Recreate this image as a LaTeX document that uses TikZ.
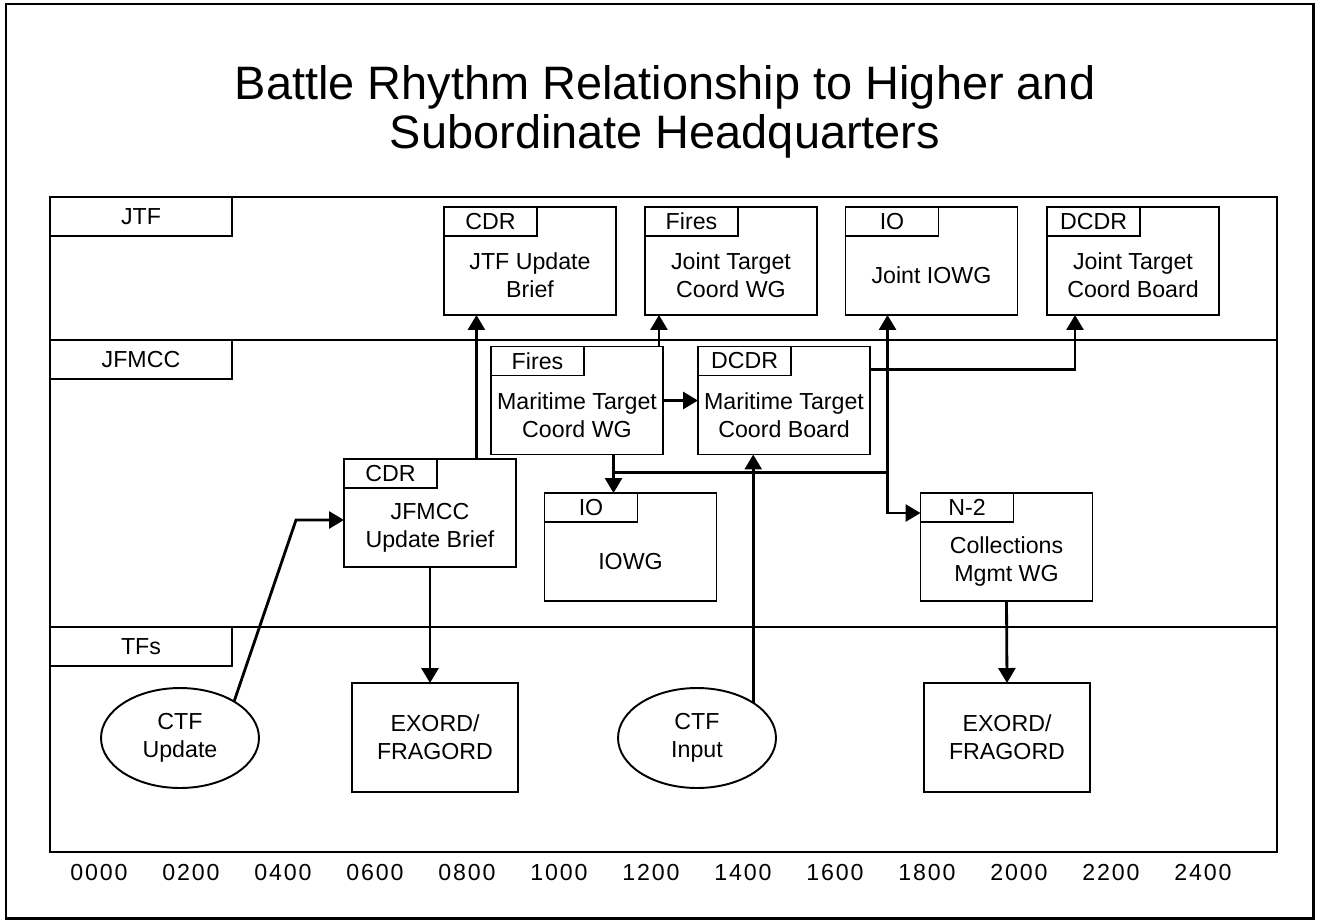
\documentclass[tikz,border=0pt]{standalone}
\usepackage{fontspec}
\setmainfont{Liberation Sans}
\newfontfamily\hourfont[LetterSpace=8]{Liberation Sans}
\usetikzlibrary{arrows.meta, positioning, calc, shapes.geometric}

\begin{document}
\begin{tikzpicture}[x=0.02cm, y=-0.02cm,
    lane/.style={draw, line width=1.1pt},
    lanelabel/.style={draw, line width=1.1pt, anchor=north west, outer sep=0pt, inner sep=0pt, minimum width=3.64cm, minimum height=0.78cm, font=\fontsize{13.2}{15.9}\selectfont},
    event/.style={draw, line width=1.1pt, outer sep=0pt, inner sep=0pt, minimum width=3.44cm, minimum height=2.16cm},
    tab/.style={draw, line width=1.1pt, anchor=north west, outer sep=0pt, inner sep=0pt, minimum width=1.86cm, minimum height=0.58cm, font=\fontsize{13.2}{15.9}\selectfont},
    evtext/.style={align=center, inner sep=0pt, font=\fontsize{13.2}{15.9}\selectfont},
    order/.style={event, minimum width=3.32cm, minimum height=2.18cm, align=center, font=\fontsize{13.2}{15.9}\selectfont},
    inputs/.style={ellipse, draw, line width=1.1pt, outer sep=0pt, inner sep=0pt, minimum width=3.16cm, minimum height=2cm, align=center, font=\fontsize{13.2}{15.9}\selectfont},
    wire/.style={line width=1.6pt},
    arr/.style={wire, -{Triangle[length=0.3cm, width=0.34cm]}},
    arr2/.style={wire, {Triangle[length=0.3cm, width=0.34cm]}-{Triangle[length=0.3cm, width=0.34cm]}},
    hour/.style={font=\hourfont\fontsize{13.2}{15.9}\selectfont, inner sep=0pt},
    title/.style={align=center, inner sep=0pt, font=\fontsize{26.7}{27.5}\selectfont}
]
\useasboundingbox (0,0) rectangle (1322,923);

% frame and title
\draw[line width=1.7pt] (6,4) rectangle (1313,918);
\node[title] (title) at (665,112) {Battle Rhythm Relationship to Higher and\\Subordinate Headquarters};

% swim lanes
\draw[lane] (50,197) rectangle (1277,852);
\draw[lane] (50,340) -- (1277,340);
\draw[lane] (50,627) -- (1277,627);
\node[lanelabel] (jtf) at (50,197) {JTF};
\node[lanelabel] (jfmcc) at (50,340) {JFMCC};
\node[lanelabel] (tfs) at (50,627) {TFs};

% JTF events
\node[event] (jtfub) at (530,261) {};
\node[tab] (jtfub-tab) at (jtfub.north west) {CDR};
\node[evtext] (jtfub-txt) at ($(jtfub-tab.south -| jtfub.center)!0.5!(jtfub.south)$) {JTF Update\\Brief};

\node[event] (jtcwg) at (731,261) {};
\node[tab] (jtcwg-tab) at (jtcwg.north west) {Fires};
\node[evtext] (jtcwg-txt) at ($(jtcwg-tab.south -| jtcwg.center)!0.5!(jtcwg.south)$) {Joint Target\\Coord WG};

\node[event] (jiowg) at (931.5,261) {};
\node[tab] (jiowg-tab) at (jiowg.north west) {IO};
\node[evtext] (jiowg-txt) at ($(jiowg-tab.south -| jiowg.center)!0.5!(jiowg.south)$) {Joint IOWG};

\node[event] (jtcb) at (1133,261) {};
\node[tab] (jtcb-tab) at (jtcb.north west) {DCDR};
\node[evtext] (jtcb-txt) at ($(jtcb-tab.south -| jtcb.center)!0.5!(jtcb.south)$) {Joint Target\\Coord Board};

% JFMCC events
\node[event] (mtcwg) at (577,400.5) {};
\node[tab] (mtcwg-tab) at (mtcwg.north west) {Fires};
\node[evtext] (mtcwg-txt) at ($(mtcwg-tab.south -| mtcwg.center)!0.5!(mtcwg.south)$) {Maritime Target\\Coord WG};

\node[event] (mtcb) at (784,400.5) {};
\node[tab] (mtcb-tab) at (mtcb.north west) {DCDR};
\node[evtext] (mtcb-txt) at ($(mtcb-tab.south -| mtcb.center)!0.5!(mtcb.south)$) {Maritime Target\\Coord Board};

\node[event] (jfub) at (430,513) {};
\node[tab] (jfub-tab) at (jfub.north west) {CDR};
\node[evtext] (jfub-txt) at ($(jfub-tab.south -| jfub.center)!0.5!(jfub.south)$) {JFMCC\\Update Brief};

\node[event] (iowg) at (630.5,547) {};
\node[tab] (iowg-tab) at (iowg.north west) {IO};
\node[evtext] (iowg-txt) at ($(iowg-tab.south -| iowg.center)!0.5!(iowg.south)$) {IOWG};

\node[event] (coll) at (1006.5,547) {};
\node[tab] (coll-tab) at (coll.north west) {N-2};
\node[evtext] (coll-txt) at ($(coll-tab.south -| coll.center)!0.5!(coll.south)$) {Collections\\Mgmt WG};

% TF events
\node[inputs] (ctfu) at (180,738) {CTF\\Update};
\node[order] (exo1) at (435,737.5) {EXORD/\\FRAGORD};
\node[inputs] (ctfi) at (697,738) {CTF\\Input};
\node[order] (exo2) at (1007,737.5) {EXORD/\\FRAGORD};

% time axis
\foreach \h [count=\i from 0] in {0000,0200,0400,0600,0800,1000,1200,1400,1600,1800,2000,2200,2400}
  \node[hour] (t\i) at (99+92*\i,873) {\h};

% CTF update feeds the JFMCC brief
\coordinate (bend) at ($(jfub.west)+(-48,7)$);
\draw[arr] (ctfu.34) -- (bend) -- (bend -| jfub.west);

% JFMCC brief up to JTF, down to orders
\coordinate (up1) at ($(jfub.north west)!0.77!(jfub.north east)$);
\draw[arr] (up1) -- (up1 |- jtfub.south);
\draw[arr] (jfub.south) -- (jfub.south |- exo1.north);

% Fires WG
\coordinate (up2) at ($(mtcwg.north east)+(-4,0)$);
\draw[arr] (up2) -- (up2 |- jtcwg.south);
\draw[arr] (mtcwg.east) -- (mtcb.west);

% board to JTF board
\draw[arr] ($(mtcb.north east)+(0,23)$) -| ($(jtcb.south west)+(28,0)$);

% IO tie-ins
\coordinate (io) at ($(jiowg.south west)+(42,0)$);
\coordinate (drop) at ($(iowg.north west)+(69,0)$);
\coordinate (tie) at ($(mtcwg.south)+(0,18)$);
\draw[arr] (drop |- mtcwg.south) -- (drop);
\draw[wire] (tie -| drop) -- (tie -| io);
\draw[arr2] ($(coll.north west)+(0,20)$) -| (io);

% CTF input to board
\draw[arr] (ctfi.32) -- (ctfi.32 |- mtcb.south);

% collections to orders
\draw[arr] (coll.south) -- (exo2.north);

\end{tikzpicture}
\end{document}
